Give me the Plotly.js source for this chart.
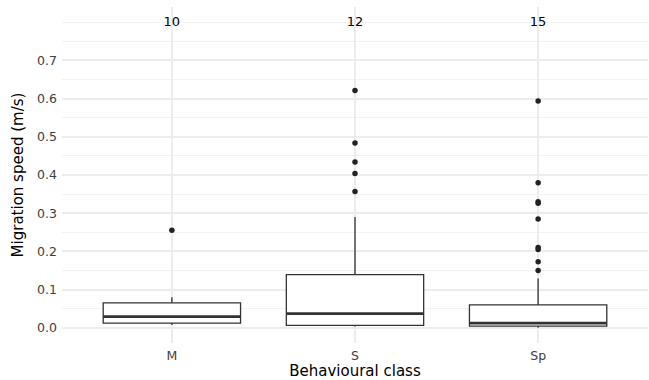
<!DOCTYPE html>
<html>
<head>
<meta charset="utf-8">
<script src="https://cdn.plot.ly/plotly-3.0.1.min.js"></script>
<style>html,body{margin:0;padding:0;background:#fff;}#chart{width:649px;height:380px;}</style>
</head>
<body>
<div id="chart"></div>
<script>
// ---- data ----
const categories = ['M', 'S', 'Sp'];
const counts = [10, 12, 15];
const q1 = [0.012, 0.006, 0.004];
const medians = [0.029, 0.037, 0.012];
const q3 = [0.065, 0.139, 0.060];
const lowerWhisker = [0.007, 0.003, 0.0];
const upperWhisker = [0.080, 0.290, 0.129];
const outliersM = [0.255];
const outliersS = [0.621, 0.484, 0.434, 0.404, 0.357];
const outliersSp = [0.594, 0.380, 0.330, 0.326, 0.285, 0.210, 0.205, 0.173, 0.150];
const countLabelY = 0.8;
const yTickVals = [0, 0.1, 0.2, 0.3, 0.4, 0.5, 0.6, 0.7];
const yTickText = ['0.0', '0.1', '0.2', '0.3', '0.4', '0.5', '0.6', '0.7'];
const yMinorVals = [0.05, 0.15, 0.25, 0.35, 0.45, 0.55, 0.65, 0.75, 0.8];

const outlierGroups = [outliersM, outliersS, outliersSp];
const outX = [], outY = [];
outlierGroups.forEach((g, i) => g.forEach(v => { outX.push(categories[i]); outY.push(v); }));

const boxWidth = 0.75;
const font = 'DejaVu Sans, sans-serif';

const traces = [
  {
    type: 'box',
    x: categories,
    q1: q1,
    median: medians,
    q3: q3,
    lowerfence: lowerWhisker,
    upperfence: upperWhisker,
    width: boxWidth,
    whiskerwidth: 0,
    boxpoints: false,
    fillcolor: '#ffffff',
    line: { color: '#333333', width: 1.3 },
    hoverinfo: 'skip',
    showlegend: false
  },
  {
    type: 'scatter',
    mode: 'markers',
    x: outX,
    y: outY,
    marker: { color: '#222222', size: 5.5 },
    hoverinfo: 'skip',
    showlegend: false
  },
  {
    type: 'scatter',
    mode: 'text',
    x: categories,
    y: categories.map(() => countLabelY),
    text: counts.map(String),
    textposition: 'middle center',
    textfont: { family: font, size: 13, color: '#000000' },
    hoverinfo: 'skip',
    showlegend: false
  }
];

const shapes = medians.map((m, i) => ({
  type: 'line', xref: 'x', yref: 'y',
  x0: i - boxWidth / 2, x1: i + boxWidth / 2, y0: m, y1: m,
  line: { color: '#333333', width: 2.6 }
}));

const layout = {
  width: 649, height: 380,
  margin: { l: 62, r: 1, t: 7, b: 37 },
  paper_bgcolor: '#ffffff', plot_bgcolor: '#ffffff',
  font: { family: font, color: '#4d4d4d' },
  showlegend: false,
  shapes: shapes,
  xaxis: {
    type: 'category',
    range: [-0.6, 2.6],
    showgrid: true, gridcolor: '#ececec', gridwidth: 2,
    zeroline: false, showline: false, ticks: '',
    tickfont: { family: font, size: 12.5, color: '#3d3d3d' },
    ticklabelstandoff: 3,
    title: { text: 'Behavioural class', font: { family: font, size: 15, color: '#000000' }, standoff: 4 }
  },
  yaxis: {
    range: [-0.04, 0.84],
    tickmode: 'array', tickvals: yTickVals, ticktext: yTickText,
    showgrid: true, gridcolor: '#ececec', gridwidth: 2,
    minor: { tickmode: 'array', tickvals: yMinorVals, showgrid: true, gridcolor: '#f2f2f2', gridwidth: 1, ticks: '' },
    zeroline: false, showline: false, ticks: '',
    tickfont: { family: font, size: 12.5, color: '#3d3d3d' },
    ticklabelstandoff: 4,
    title: { text: 'Migration speed (m/s)', font: { family: font, size: 15, color: '#000000' }, standoff: 9 }
  }
};

Plotly.newPlot('chart', traces, layout, { displayModeBar: false, staticPlot: true });
</script>
</body>
</html>
